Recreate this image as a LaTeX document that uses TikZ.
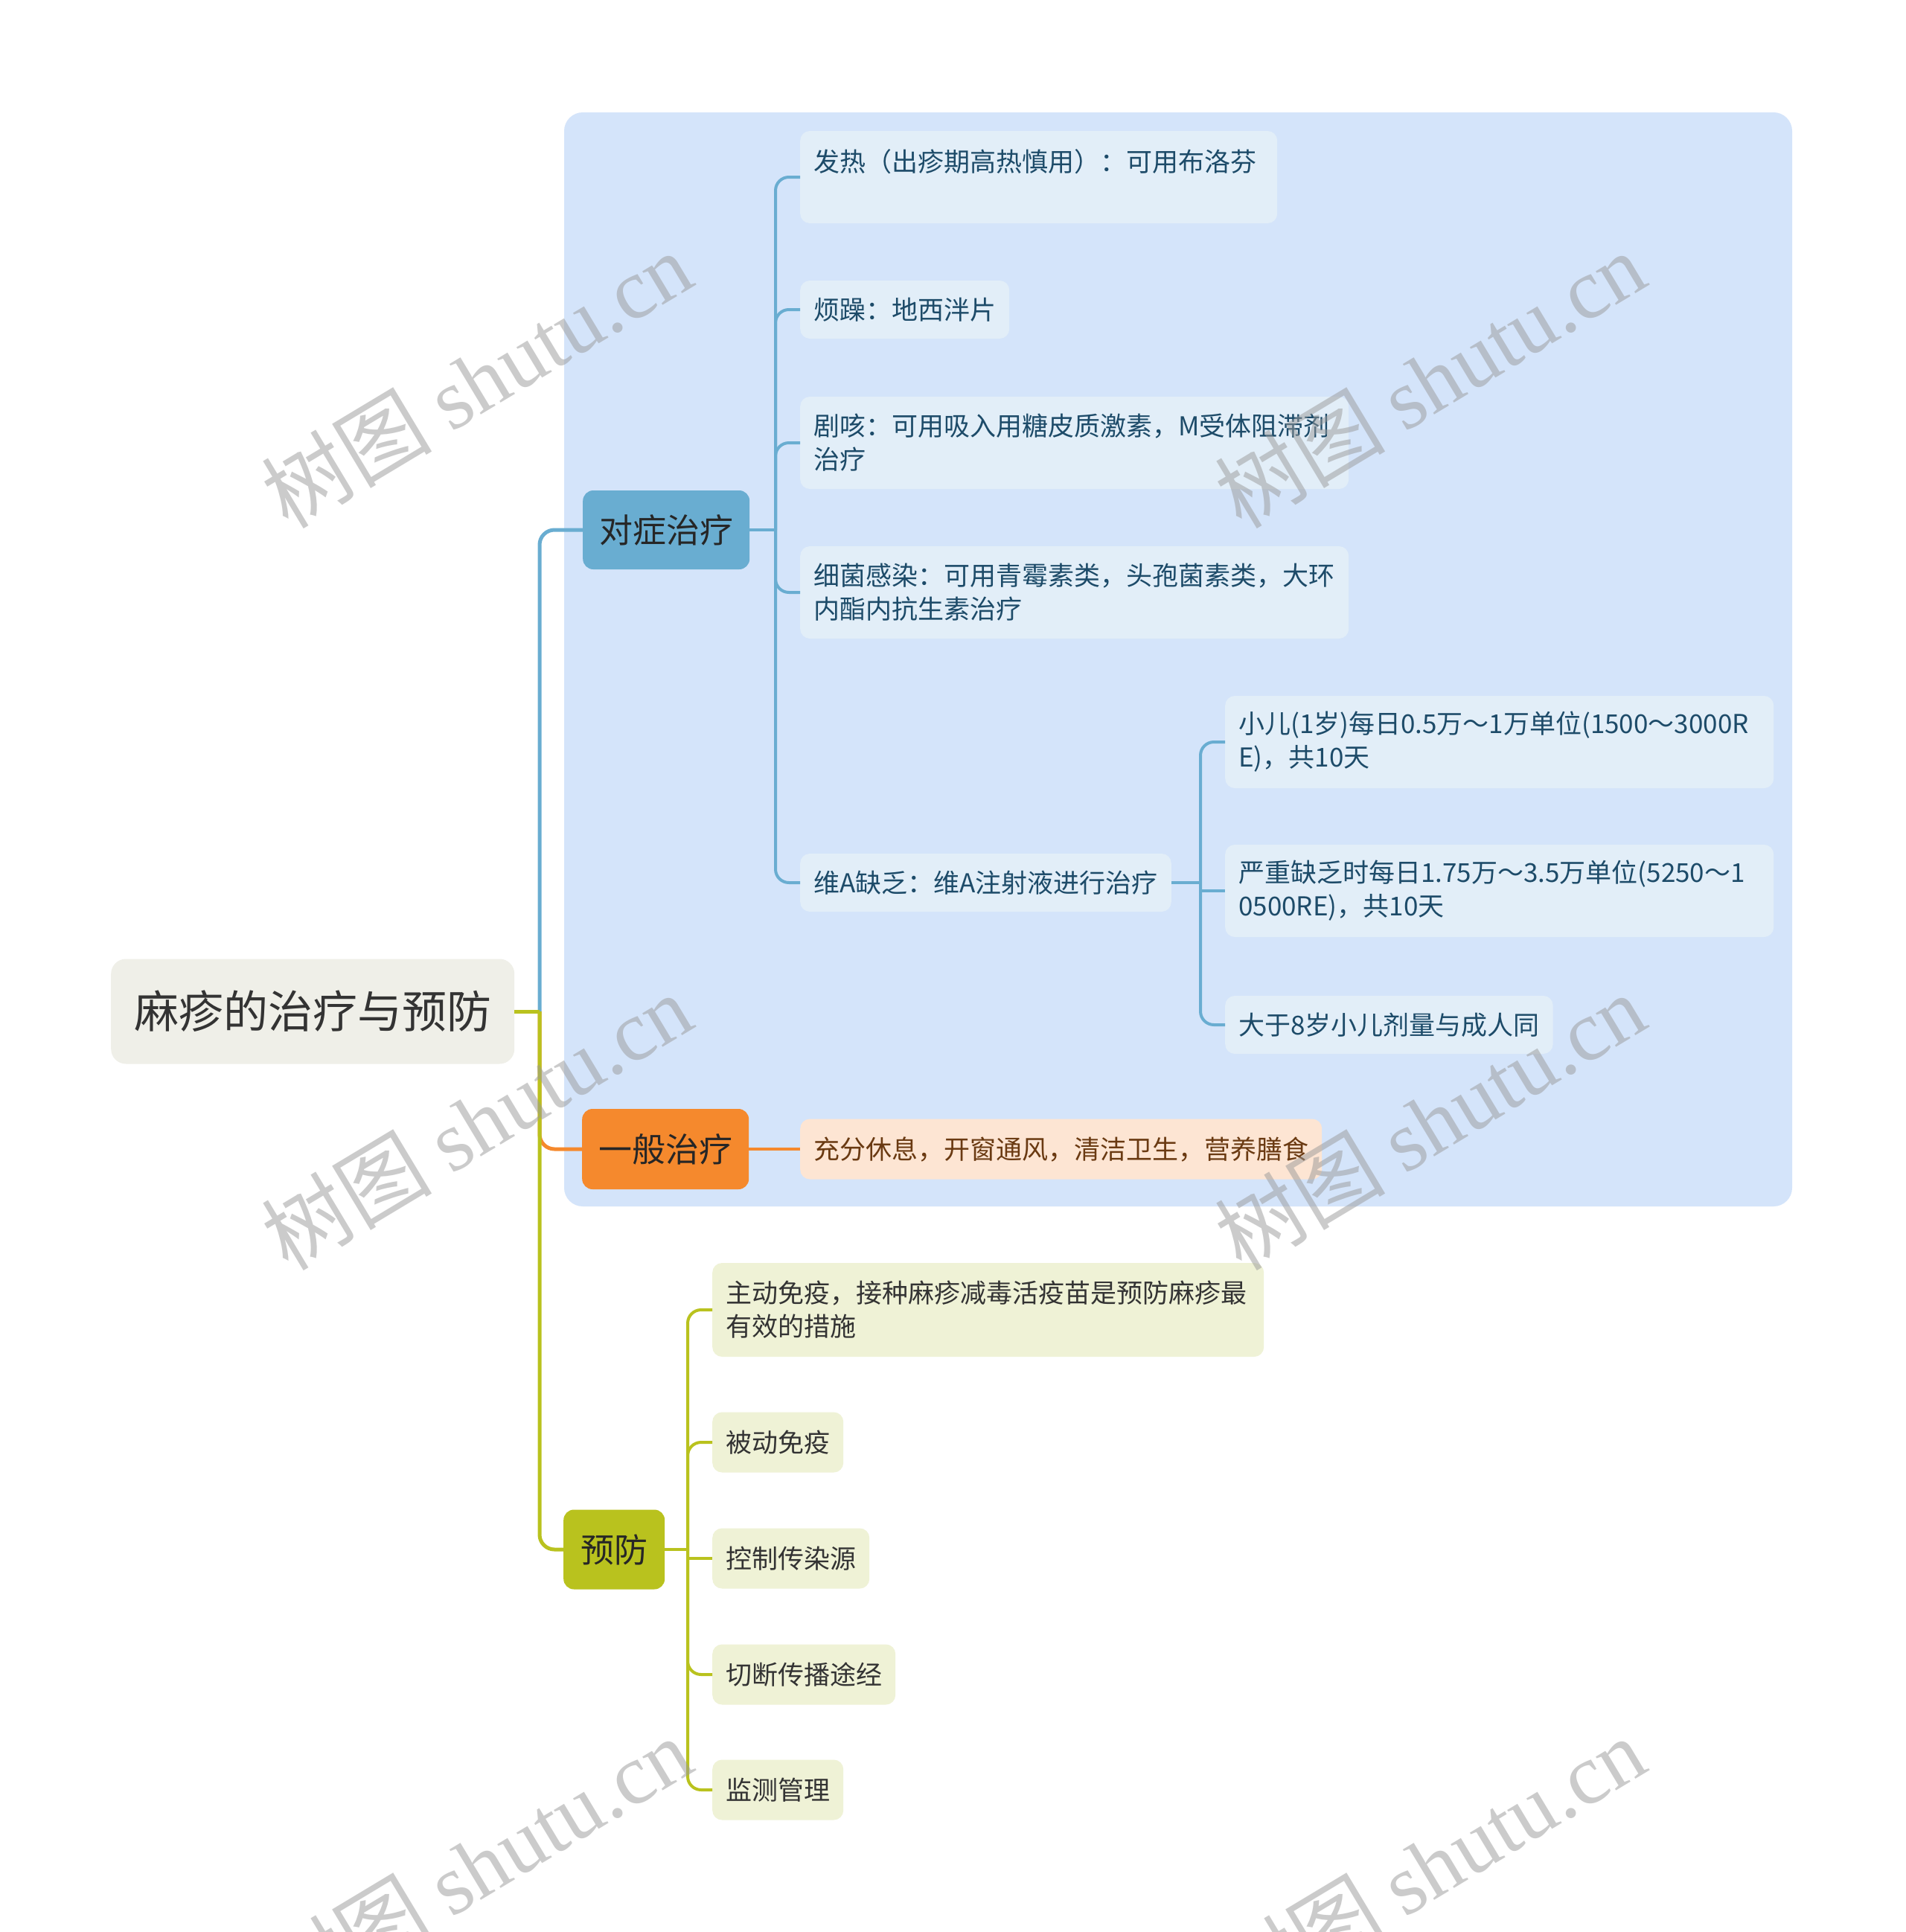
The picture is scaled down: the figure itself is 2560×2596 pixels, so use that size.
\documentclass[tikz,border=0pt]{standalone}
\usepackage{fontspec}
\setmainfont{Noto Sans CJK SC}
\newfontfamily\wmlatin{Liberation Serif}
\definecolor{bgblue}{HTML}{D4E4FA}
\definecolor{cblue}{HTML}{69ADD1}
\definecolor{corange}{HTML}{F5892D}
\definecolor{colive}{HTML}{B9C21E}
\definecolor{fblue}{HTML}{E2EEF8}
\definecolor{fpeach}{HTML}{FDE5D3}
\definecolor{folive}{HTML}{EFF2D6}
\definecolor{froot}{HTML}{EFEFE8}
\definecolor{tblue}{HTML}{1D4B69}
\definecolor{tbrown}{HTML}{6A3A12}
\definecolor{tdark}{HTML}{333333}
\tikzset{
  rootbox/.style={anchor=west, fill=froot, rounded corners=20, inner xsep=31, inner ysep=0, minimum height=141, text=tdark, font=\fontsize{60}{72}\selectfont},
  lvone/.style={anchor=west, rounded corners=14, inner xsep=22, inner ysep=0, minimum height=106, font=\fontsize{45}{54}\selectfont},
  leaf/.style={anchor=west, rounded corners=13, inner xsep=18, inner ysep=0, align=left, font=\fontsize{35}{45}\selectfont},
  bleaf/.style={leaf, fill=fblue, text=tblue},
  oleaf/.style={leaf, fill=folive, text=tdark},
  pleaf/.style={leaf, fill=fpeach, text=tbrown},
  oneline/.style={minimum height=78},
  twoline/.style={minimum height=124},
  lineB/.style={draw=cblue, line width=4},
  lineO/.style={draw=colive, line width=4},
  trunk/.style={line width=5},
  wmark/.style={rotate=31, text=black!40, opacity=0.5, font=\fontsize{115}{130}\selectfont}
}
\begin{document}
\begin{tikzpicture}[x=1pt,y=-1pt]
\useasboundingbox (0,0) rectangle (2560,2596);
\fill[white] (0,0) rectangle (2560,2596);
% background region
\fill[bgblue, rounded corners=25] (758,151) rectangle (2408,1621);

% root and level one
\node[rootbox] (root) at (149,1359) {麻疹的治疗与预防};
\node[lvone, fill=cblue, text=black!85] (dz) at (783,712) {对症治疗};
\node[lvone, fill=corange, text=black!85, minimum height=108] (yb) at (782,1544) {一般治疗};
\node[lvone, fill=colive, text=black!85, minimum height=107, inner xsep=23] (yf) at (757,2082) {预防};

% level two (对症治疗)
\node[bleaf, twoline, text width=605] (n1) at (1075,238) {发热（出疹期高热慎用）：可用布洛芬\\\mbox{}};
\node[bleaf, oneline] (n2) at (1075,416) {烦躁：地西泮片};
\node[bleaf, twoline, text width=701] (n3) at (1075,595) {剧咳：可用吸入用糖皮质激素，M受体阻滞剂\\治疗};
\node[bleaf, twoline, text width=701] (n4) at (1075,796) {细菌感染：可用青霉素类，头孢菌素类，大环\\内酯内抗生素治疗};
\node[bleaf, oneline] (n5) at (1075,1186) {维A缺乏：维A注射液进行治疗};

% level three (维A缺乏)
\node[bleaf, twoline, text width=701] (m1) at (1646,997) {小儿(1岁)每日0.5万～1万单位(1500～3000R\\E)，共10天};
\node[bleaf, twoline, text width=701] (m2) at (1646,1197) {严重缺乏时每日1.75万～3.5万单位(5250～1\\0500RE)，共10天};
\node[bleaf, oneline] (m3) at (1646,1377) {大于8岁小儿剂量与成人同};

% 一般治疗
\node[pleaf, minimum height=81] (g1) at (1075,1544) {充分休息，开窗通风，清洁卫生，营养膳食};

% 预防
\node[oleaf, minimum height=126, text width=705] (p1) at (957,1760) {主动免疫，接种麻疹减毒活疫苗是预防麻疹最\\有效的措施};
\node[oleaf, minimum height=81] (p2) at (957,1938) {被动免疫};
\node[oleaf, minimum height=81] (p3) at (957,2094) {控制传染源};
\node[oleaf, minimum height=81] (p4) at (957,2250) {切断传播途经};
\node[oleaf, minimum height=81] (p5) at (957,2405) {监测管理};

% level one connectors
\coordinate (tj) at (725,1359);
\draw[trunk, cblue, rounded corners=20] (tj) |- (dz.west);
\draw[trunk, corange, rounded corners=20] (tj) |- (yb.west);
\draw[trunk, colive] (root.east) -- (tj);
\draw[trunk, colive, rounded corners=20] (tj) |- (yf.west);

% 对症治疗 connectors
\coordinate (sa) at (1042,712);
\draw[lineB] (dz.east) -- (sa);
\foreach \c in {n1,n2,n3,n4,n5} {\draw[lineB, rounded corners=18] (sa) |- (\c.west);}

% 维A connectors
\coordinate (sb) at (1613,1186);
\draw[lineB] (n5.east) -- (sb);
\draw[lineB, rounded corners=18] (sb) |- (m1.west);
\draw[lineB] (sb) -- (1613,1197) -- (m2.west);
\draw[lineB, rounded corners=18] (sb) |- (m3.west);

% 一般治疗 connector
\draw[draw=corange, line width=4] (yb.east) -- (g1.west);

% 预防 connectors
\coordinate (sc) at (924,2082);
\draw[lineO] (yf.east) -- (sc);
\draw[lineO, rounded corners=18] (sc) |- (p1.west);
\draw[lineO, rounded corners=18] (sc) |- (p2.west);
\draw[lineO] (sc) -- (924,2094) -- (p3.west);
\draw[lineO, rounded corners=18] (sc) |- (p4.west);
\draw[lineO, rounded corners=18] (sc) |- (p5.west);

% watermarks
\foreach \wx/\wy [count=\i] in {640/510, 1921/510, 640/1507, 1921/1507, 640/2506, 1921/2506}
  {\node[wmark] (wm\i) at (\wx,\wy) {树图 {\wmlatin shutu.cn}};}
\end{tikzpicture}
\end{document}
